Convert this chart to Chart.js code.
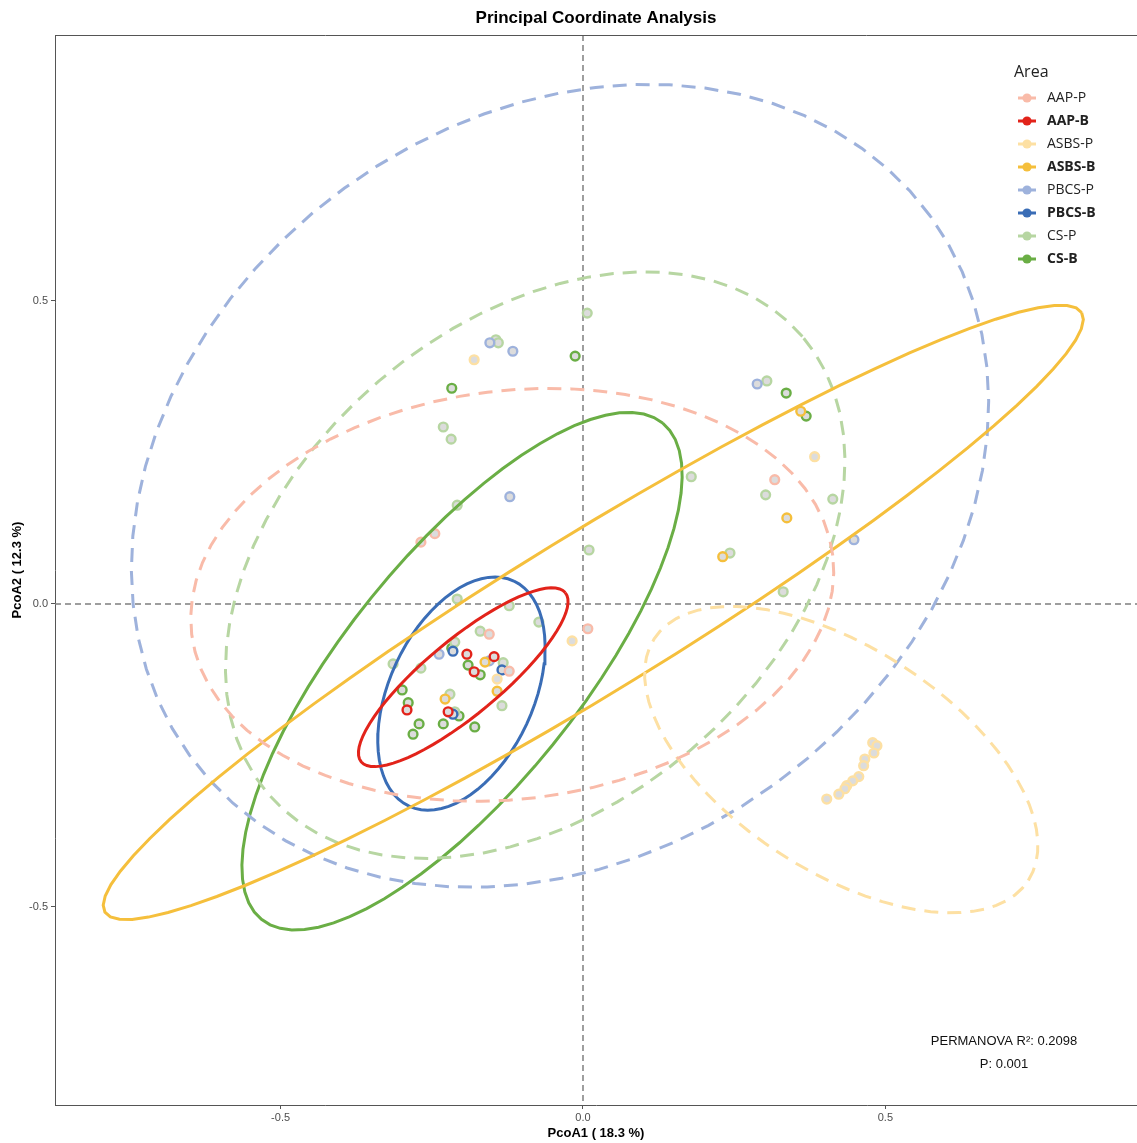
<!DOCTYPE html>
<html>
<head>
<meta charset="utf-8">
<script src="https://cdn.jsdelivr.net/npm/chart.js@4.4.0/dist/chart.umd.min.js"></script>
<style>
  html, body { margin: 0; padding: 0; background: #fff; }
</style>
</head>
<body>
<canvas id="pcoa" width="1137" height="1143"></canvas>
<script>
// groups, in legend order
const groups = ['AAP-P', 'AAP-B', 'ASBS-P', 'ASBS-B', 'PBCS-P', 'PBCS-B', 'CS-P', 'CS-B'];
const colors = ['#f9bba9', '#e2231a', '#fde0a3', '#f5bf3c', '#9eb2dc', '#3a6db6', '#b7d6a2', '#6aae45'];
const boldLabel = [false, true, false, true, false, true, false, true];

// sample coordinates [PcoA1, PcoA2]
const aapP = [[0.008, -0.041], [-0.155, -0.050], [-0.122, -0.111], [-0.245, 0.116], [-0.268, 0.102], [0.317, 0.205]];
const aapB = [[-0.192, -0.083], [-0.147, -0.087], [-0.180, -0.112], [-0.291, -0.175], [-0.223, -0.178]];
const asbsP = [[-0.180, 0.403], [-0.018, -0.061], [-0.142, -0.124], [0.383, 0.243],
  [0.479, -0.229], [0.486, -0.234], [0.481, -0.246], [0.466, -0.256], [0.464, -0.267], [0.456, -0.285],
  [0.446, -0.292], [0.436, -0.300], [0.433, -0.305], [0.423, -0.314], [0.403, -0.322]];
const asbsB = [[-0.162, -0.096], [-0.142, -0.144], [-0.228, -0.157], [0.360, 0.318], [0.337, 0.142], [0.231, 0.078]];
const pbcsP = [[-0.154, 0.431], [-0.116, 0.417], [-0.121, 0.177], [-0.238, -0.083], [-0.155, -0.094], [0.288, 0.363], [0.448, 0.106]];
const pbcsB = [[-0.215, -0.078], [-0.134, -0.109], [-0.215, -0.182]];
const csP = [[-0.144, 0.436], [-0.140, 0.431], [0.007, 0.480], [-0.231, 0.292], [-0.218, 0.272], [-0.208, 0.163],
  [0.010, 0.089], [-0.208, 0.008], [-0.122, -0.003], [-0.073, -0.030], [-0.170, -0.045], [-0.212, -0.063],
  [-0.132, -0.097], [-0.314, -0.099], [-0.268, -0.106], [-0.220, -0.149], [-0.134, -0.168], [-0.212, -0.178],
  [0.304, 0.368], [0.179, 0.210], [0.302, 0.180], [0.413, 0.173], [0.243, 0.084], [0.331, 0.020]];
const csB = [[-0.013, 0.409], [-0.217, 0.356], [0.336, 0.348], [0.369, 0.310], [-0.217, -0.073], [-0.190, -0.101],
  [-0.170, -0.117], [-0.299, -0.142], [-0.289, -0.163], [-0.205, -0.185], [-0.271, -0.198], [-0.231, -0.198],
  [-0.281, -0.215], [-0.179, -0.203]];
const samples = [aapP, aapB, asbsP, asbsB, pbcsP, pbcsB, csP, csB];

// 95% ellipses per group: centre, semi-axes, rotation (degrees)
const ellCx = [-0.117, -0.198, 0.427, 0.017, -0.038, -0.201, -0.079, -0.200];
const ellCy = [0.015, -0.121, -0.257, -0.014, 0.195, -0.148, 0.064, -0.111];
const ellA = [0.534, 0.219, 0.368, 0.947, 0.757, 0.205, 0.581, 0.527];
const ellB = [0.337, 0.062, 0.185, 0.130, 0.607, 0.119, 0.399, 0.193];
const ellAngle = [7, 39.6, -32.8, 31.5, 36, 65, 40.5, 51];

const xTicks = [-0.5, 0, 0.5];
const yTicks = [-0.5, 0, 0.5];

function ellipsePath(i) {
  const pts = [];
  const t = ellAngle[i] * Math.PI / 180;
  for (let k = 0; k <= 72; k++) {
    const u = k / 72 * 2 * Math.PI;
    const ex = ellA[i] * Math.cos(u), ey = ellB[i] * Math.sin(u);
    pts.push({ x: ellCx[i] + ex * Math.cos(t) - ey * Math.sin(t), y: ellCy[i] + ex * Math.sin(t) + ey * Math.cos(t) });
  }
  return pts;
}

const datasets = [];
groups.forEach((g, i) => {
  datasets.push({
    type: 'scatter',
    label: g,
    data: samples[i].map(p => ({ x: p[0], y: p[1] })),
    pointRadius: 4.4,
    pointBorderWidth: 2.4,
    pointBackgroundColor: '#dcdcdc',
    pointBorderColor: colors[i],
    order: 2
  });
});
groups.forEach((g, i) => {
  datasets.push({
    type: 'line',
    label: g + ' ellipse',
    data: ellipsePath(i),
    borderColor: colors[i],
    borderWidth: 3,
    borderDash: boldLabel[i] ? [] : [14, 9],
    pointRadius: 0,
    fill: false,
    tension: 0,
    order: 1
  });
});

const decor = {
  id: 'decor',
  beforeDatasetsDraw(chart) {
    const { ctx, chartArea: a, scales } = chart;
    const x0 = scales.x.getPixelForValue(0), y0 = scales.y.getPixelForValue(0);
    ctx.save();
    ctx.strokeStyle = '#7f7f7f';
    ctx.lineWidth = 1.5;
    ctx.setLineDash([6, 4]);
    ctx.beginPath();
    ctx.moveTo(x0, a.top); ctx.lineTo(x0, a.bottom);
    ctx.moveTo(a.left, y0); ctx.lineTo(a.right, y0);
    ctx.stroke();
    ctx.restore();
  },
  afterDraw(chart) {
    const { ctx, chartArea: a } = chart;
    ctx.save();
    ctx.strokeStyle = '#555';
    ctx.lineWidth = 1;
    ctx.beginPath();
    ctx.moveTo(a.left, a.top + 0.5); ctx.lineTo(a.right, a.top + 0.5);
    ctx.stroke();

    const cx = (a.left + a.right) / 2, cy = (a.top + a.bottom) / 2;
    ctx.fillStyle = '#000';
    ctx.textAlign = 'center';
    ctx.textBaseline = 'middle';
    ctx.font = 'bold 17px "Liberation Sans", Arial, sans-serif';
    ctx.fillText('Principal Coordinate Analysis', cx, 18);
    ctx.font = 'bold 13px "Liberation Sans", Arial, sans-serif';
    ctx.fillText('PcoA1 ( 18.3 %)', cx, 1133);
    ctx.save();
    ctx.translate(17, cy);
    ctx.rotate(-Math.PI / 2);
    ctx.fillText('PcoA2 ( 12.3 %)', 0, 0);
    ctx.restore();

    ctx.fillStyle = '#111';
    ctx.font = '13px "Liberation Sans", Arial, sans-serif';
    ctx.fillText('PERMANOVA R\u00b2: 0.2098', 1004, 1041);
    ctx.fillText('P: 0.001', 1004, 1064);

    // legend
    ctx.textAlign = 'left';
    ctx.fillStyle = '#222';
    ctx.font = '16px "Open Sans", sans-serif';
    ctx.fillText('Area', 1014, 72);
    groups.forEach((g, i) => {
      const y = 98 + i * 23;
      ctx.strokeStyle = colors[i];
      ctx.fillStyle = colors[i];
      ctx.lineWidth = 3;
      ctx.beginPath();
      ctx.moveTo(1018, y); ctx.lineTo(1036, y);
      ctx.stroke();
      ctx.beginPath();
      ctx.arc(1027, y, 4.6, 0, 2 * Math.PI);
      ctx.fill();
      ctx.fillStyle = '#222';
      ctx.font = (boldLabel[i] ? 'bold ' : '') + '14px "Open Sans", sans-serif';
      ctx.fillText(g, 1047, y);
    });
    ctx.restore();
  }
};

new Chart(document.getElementById('pcoa'), {
  data: { datasets },
  options: {
    responsive: false,
    animation: false,
    layout: { autoPadding: false, padding: { top: 35, right: 0, left: 0, bottom: 0 } },
    plugins: { legend: { display: false }, tooltip: { enabled: false } },
    scales: {
      x: {
        type: 'linear', min: -0.873, max: 0.916,
        afterBuildTicks: s => { s.ticks = xTicks.map(v => ({ value: v })); },
        afterFit: s => { s.height = 38; s.paddingLeft = 0; s.paddingRight = 0; },
        ticks: { color: '#4d4d4d', font: { size: 11, family: '"Liberation Sans", Arial' }, padding: 2,
          callback: v => v.toFixed(1) },
        grid: { drawOnChartArea: false, drawTicks: true, tickLength: 4, color: '#555' },
        border: { color: '#555', width: 1 }
      },
      y: {
        type: 'linear', min: -0.827, max: 0.939,
        afterBuildTicks: s => { s.ticks = yTicks.map(v => ({ value: v })); },
        afterFit: s => { s.width = 55; s.paddingTop = 0; s.paddingBottom = 0; },
        ticks: { color: '#4d4d4d', font: { size: 11, family: '"Liberation Sans", Arial' }, padding: 3,
          callback: v => v.toFixed(1) },
        grid: { drawOnChartArea: false, drawTicks: true, tickLength: 4, color: '#555' },
        border: { color: '#555', width: 1 }
      }
    }
  },
  plugins: [decor]
});
</script>
</body>
</html>
